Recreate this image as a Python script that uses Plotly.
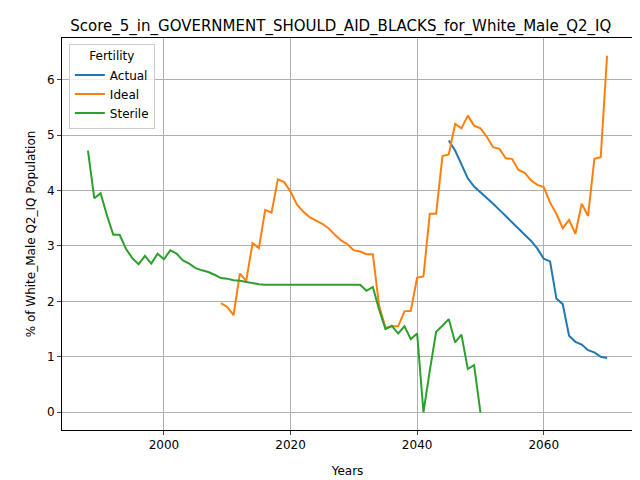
import plotly.graph_objects as go

# Values
actual_years = list(range(2045, 2071))
actual_vals = [4.9, 4.72, 4.47, 4.22, 4.07, 3.97, 3.87, 3.76, 3.65, 3.54, 3.43, 3.32, 3.21, 3.09,
               2.95, 2.77, 2.72, 2.05, 1.95, 1.38, 1.27, 1.22, 1.12, 1.08, 1.0, 0.98]

ideal_years = list(range(2009, 2071))
ideal_vals = [1.97, 1.9, 1.75, 2.5, 2.37, 3.05, 2.96, 3.65, 3.6, 4.2, 4.15, 3.98, 3.75, 3.62,
              3.52, 3.46, 3.4, 3.32, 3.2, 3.1, 3.03, 2.92, 2.9, 2.85, 2.85, 1.92, 1.52, 1.55,
              1.55, 1.82, 1.83, 2.43, 2.45, 3.58, 3.58, 4.62, 4.65, 5.2, 5.12, 5.35, 5.17, 5.12,
              4.97, 4.78, 4.75, 4.58, 4.57, 4.37, 4.32, 4.18, 4.1, 4.06, 3.78, 3.58, 3.32, 3.47,
              3.22, 3.76, 3.54, 4.57, 4.6, 6.43]

sterile_years = list(range(1988, 2051))
sterile_vals = [4.72, 3.86, 3.95, 3.55, 3.2, 3.2, 2.95, 2.78, 2.67, 2.82, 2.68, 2.86, 2.76, 2.92,
                2.86, 2.74, 2.68, 2.6, 2.56, 2.53, 2.48, 2.42, 2.41, 2.38, 2.37, 2.35, 2.32, 2.31,
                2.3, 2.3, 2.3, 2.3, 2.3, 2.3, 2.3, 2.3, 2.3, 2.3, 2.3, 2.3, 2.3, 2.3, 2.3, 2.3,
                2.19, 2.26, 1.85, 1.5, 1.56, 1.42, 1.55, 1.32, 1.42, 0.0, 0.75, 1.45, 1.56, 1.68,
                1.26, 1.4, 0.78, 0.85, 0.0]

fig = go.Figure()
for name, xs, ys, color in [('Actual', actual_years, actual_vals, '#1f77b4'),
                            ('Ideal', ideal_years, ideal_vals, '#ff7f0e'),
                            ('Sterile', sterile_years, sterile_vals, '#2ca02c')]:
    fig.add_trace(go.Scatter(x=xs, y=ys, mode='lines', name=name,
                             line=dict(color=color, width=2)))

axis_style = dict(showgrid=True, gridcolor='#b0b0b0', gridwidth=1, showline=True,
                  linecolor='black', mirror=True, ticks='outside', ticklen=4,
                  zeroline=False, automargin=False, tickfont=dict(size=12, color='black'))

fig.update_layout(
    width=640, height=480,
    paper_bgcolor='white', plot_bgcolor='white',
    font=dict(family='DejaVu Sans', color='black'),
    margin=dict(l=54, r=15, t=30, b=58),
    title=dict(text='Score_5_in_GOVERNMENT_SHOULD_AID_BLACKS_for_White_Male_Q2_IQ',
               x=0.52, xanchor='center', y=0.975, font=dict(size=15)),
    xaxis=dict(title=dict(text='Years', font=dict(size=12)), range=[1983.9, 2074.1],
               tickvals=[2000, 2020, 2040, 2060], **axis_style),
    yaxis=dict(title=dict(text='% of White_Male Q2_IQ Population', font=dict(size=12), standoff=8),
               range=[-0.32, 6.75], tickvals=[0, 1, 2, 3, 4, 5, 6], **axis_style),
    legend=dict(title=dict(text='Fertility', side='top center', font=dict(size=12)),
                x=0.012, y=0.985, xanchor='left', yanchor='top',
                bgcolor='rgba(255,255,255,0.8)', bordercolor='#cccccc', borderwidth=1,
                font=dict(size=12)),
)

fig.write_html("out.html")
